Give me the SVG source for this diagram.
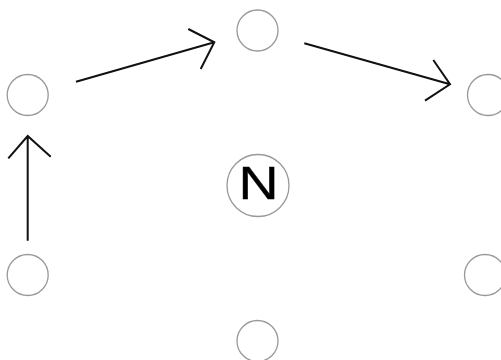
<svg xmlns="http://www.w3.org/2000/svg" width="501" height="360" viewBox="0 0 501 360">
<style>
.node circle{fill:#fff;stroke:#999;stroke-width:1.3}
.edge{fill:none;stroke:#111;stroke-width:2;stroke-linecap:butt;stroke-linejoin:miter}
.lbl{font-family:"Liberation Sans",Arial,sans-serif;font-size:45.5px;fill:#000;stroke:#000;stroke-width:0.4}
</style>
<rect width="501" height="360" fill="#fff"/>
<g id="node-top" class="node"><circle cx="257.5" cy="30.5" r="20.5"/></g>
<g id="node-left" class="node"><circle cx="27.7" cy="95" r="20.5"/></g>
<g id="node-right" class="node"><circle cx="488" cy="95" r="20.5"/></g>
<g id="node-bottomleft" class="node"><circle cx="27.7" cy="275" r="20.5"/></g>
<g id="node-bottomright" class="node"><circle cx="485" cy="275" r="20.5"/></g>
<g id="node-bottom" class="node"><circle cx="257.5" cy="341" r="20.5"/></g>
<g id="node-N" class="node"><circle cx="258" cy="185.5" r="31"/>
<text class="lbl" transform="translate(258.6,199.2) scale(1.22,1)" text-anchor="middle">N</text></g>
<g id="connectors">
<path class="edge" d="M76,81.7 L214.3,42.3 M188.3,29 L214.3,42.3 L200.7,69"/>
<path class="edge" d="M304.3,43.3 L450,84.3 M433.3,60 L450,84.3 L425,100.7"/>
<path class="edge" d="M27.7,240.7 L27.7,136 M8.3,158.3 L27.7,136 L50.7,156.7"/>
</g>
</svg>
